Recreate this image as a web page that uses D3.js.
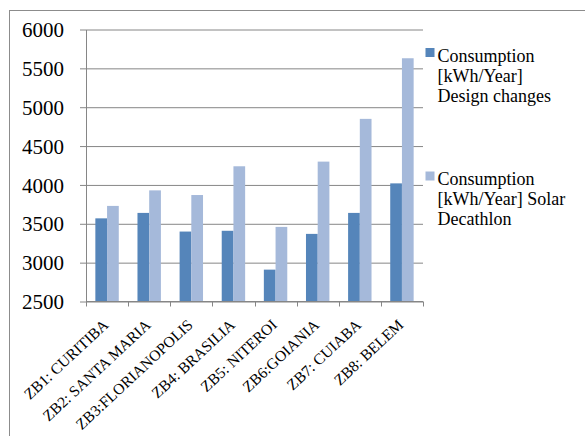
<!DOCTYPE html>
<html>
<head>
<meta charset="utf-8">
<script src="https://cdn.jsdelivr.net/npm/d3@7"></script>
<style>
  html, body { margin: 0; padding: 0; background: #fff; }
  svg { display: block; }
  svg text { font-family: "Liberation Serif", "Times New Roman", serif; }
</style>
</head>
<body>
<svg id="chart" width="585" height="436"></svg>
<script>
// Annual consumption per Brazilian bioclimatic zone
const categories = ["ZB1: CURITIBA", "ZB2: SANTA MARIA", "ZB3:FLORIANOPOLIS", "ZB4: BRASILIA",
                    "ZB5: NITEROI", "ZB6:GOIANIA", "ZB7: CUIABA", "ZB8: BELEM"];
const designChanges = [3570, 3640, 3400, 3410, 2910, 3370, 3640, 4020];
const solarDecathlon = [3730, 3930, 3870, 4240, 3460, 4300, 4850, 5630];
const seriesNames = [
  ["Consumption", "[kWh/Year]", "Design changes"],
  ["Consumption", "[kWh/Year] Solar", "Decathlon"]
];
const yTicks = [2500, 3000, 3500, 4000, 4500, 5000, 5500, 6000];

const colors = ["#5585BA", "#A5B9DA"];
const series = [designChanges, solarDecathlon];

const svg = d3.select("#chart");
const font = "Liberation Serif";

// outer frame
svg.append("rect")
  .attr("x", 9.5).attr("y", 10.5)
  .attr("width", 600).attr("height", 500)
  .attr("fill", "none").attr("stroke", "#8c8c8c").attr("stroke-width", 1);

const plot = { left: 86, right: 423, top: 29.5, bottom: 301.5 };

const x = d3.scaleBand()
  .domain(categories)
  .range([plot.left, plot.right])
  .paddingInner(0.444)
  .paddingOuter(0.222);

const xSub = d3.scaleBand()
  .domain([0, 1])
  .range([0, x.bandwidth()]);

const y = d3.scaleLinear()
  .domain([2500, 6000])
  .range([plot.bottom, plot.top]);

// horizontal gridlines with outward ticks
const yAxis = d3.axisLeft(y)
  .tickValues(yTicks)
  .tickFormat(d3.format("d"))
  .tickSize(-(plot.right - plot.left))
  .tickPadding(22)
  .tickSizeOuter(0);

const gy = svg.append("g")
  .attr("transform", `translate(${plot.left},0)`)
  .call(yAxis)
  .attr("font-family", font)
  .attr("font-size", 21);
gy.select(".domain").attr("stroke", "#868686");
gy.selectAll(".tick line")
  .attr("x1", -6)
  .attr("stroke", "#868686");
gy.selectAll(".tick text")
  .style("font-family", font)
  .style("font-size", "21px")
  .attr("fill", "#000")
  .attr("dy", "0.34em");

// bars
const groups = svg.append("g").selectAll("g")
  .data(categories)
  .join("g")
  .attr("transform", d => `translate(${x(d)},0)`);

groups.selectAll("rect")
  .data((d, i) => series.map((s, k) => ({ k, v: s[i] })))
  .join("rect")
  .attr("x", d => xSub(d.k))
  .attr("width", xSub.bandwidth())
  .attr("y", d => y(d.v))
  .attr("height", d => y(2500) - y(d.v))
  .attr("fill", d => colors[d.k]);

// x axis line and tick marks between categories
const boundaries = d3.range(categories.length + 1).map(i => plot.left + i * x.step());
const gx = svg.append("g");
gx.append("line")
  .attr("x1", plot.left).attr("x2", plot.right)
  .attr("y1", plot.bottom).attr("y2", plot.bottom)
  .attr("stroke", "#868686");
gx.selectAll("line.tk")
  .data(boundaries)
  .join("line")
  .attr("class", "tk")
  .attr("x1", d => Math.round(d) + 0.5).attr("x2", d => Math.round(d) + 0.5)
  .attr("y1", plot.bottom).attr("y2", plot.bottom + 5)
  .attr("stroke", "#868686");

// rotated category labels
gx.selectAll("text")
  .data(categories)
  .join("text")
  .style("font-family", font)
  .style("font-size", "15.5px")
  .attr("fill", "#000")
  .attr("text-anchor", "end")
  .attr("transform", d => `translate(${x(d) + x.bandwidth() / 2 + 2.5},${plot.bottom + 24.5}) rotate(-43)`)
  .text(d => d);

// legend
const legendY = [48, 171.5];
const legend = svg.append("g");
seriesNames.forEach((lines, k) => {
  legend.append("rect")
    .attr("x", 425.5).attr("y", legendY[k])
    .attr("width", 9).attr("height", 9)
    .attr("fill", colors[k]);
  const t = legend.append("text")
    .style("font-family", font)
    .style("font-size", "18px")
    .attr("fill", "#000");
  lines.forEach((ln, j) => {
    t.append("tspan")
      .attr("x", 437.5)
      .attr("y", legendY[k] + 13.5 + j * 20)
      .text(ln);
  });
});
</script>
</body>
</html>
